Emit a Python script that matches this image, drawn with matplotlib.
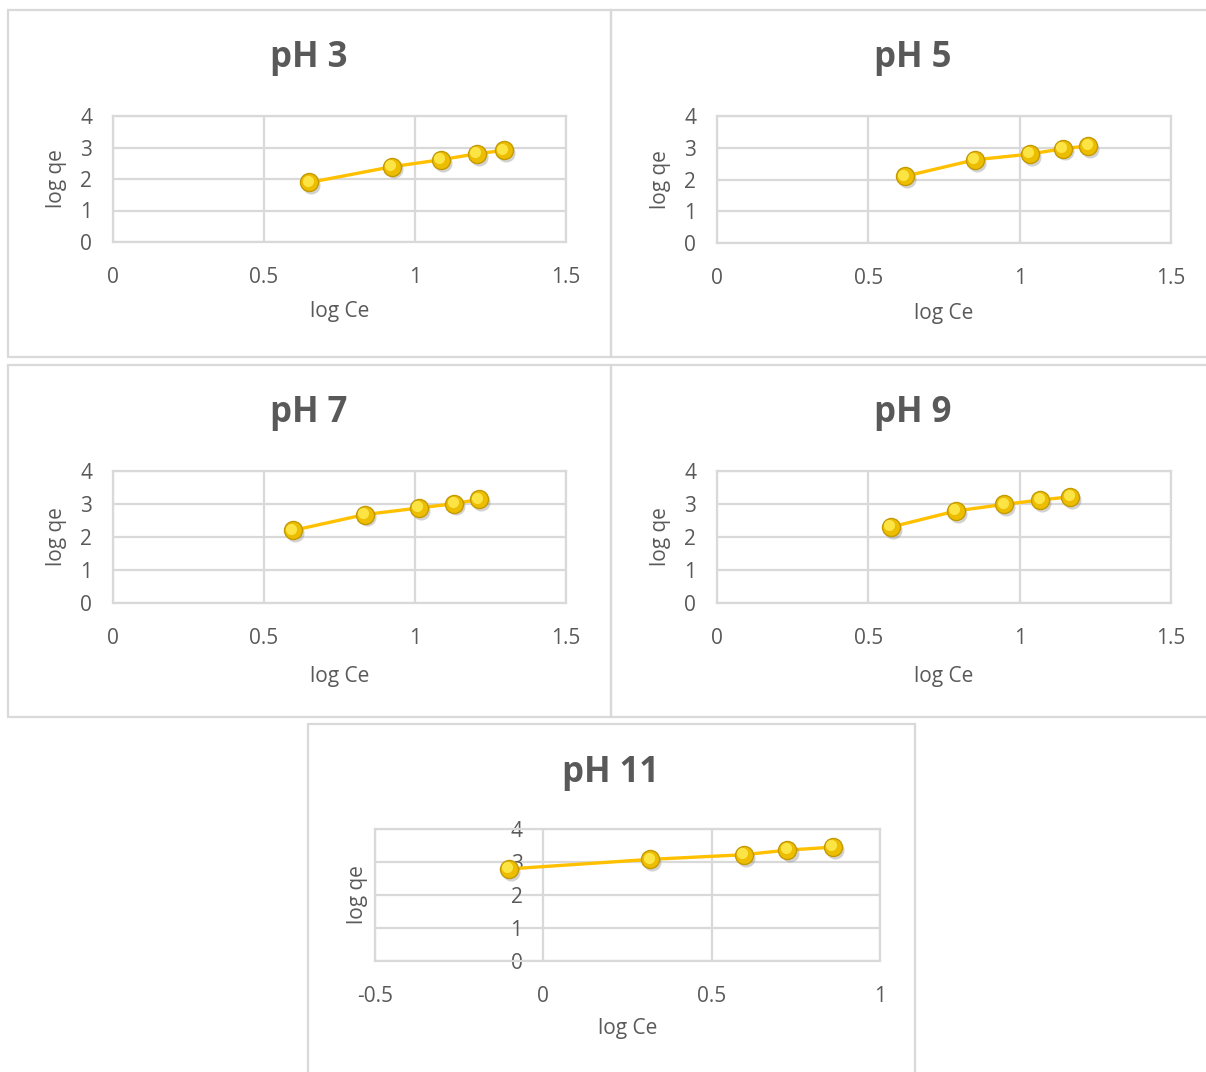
import matplotlib
matplotlib.use("Agg")
import matplotlib.pyplot as plt
import matplotlib.transforms as mtransforms
from matplotlib.patches import Rectangle

plt.rcParams['font.family'] = ['Open Sans', 'DejaVu Sans']

titles = ["pH 3", "pH 5", "pH 7", "pH 9", "pH 11"]

log_ce_ph3 = [0.650, 0.924, 1.085, 1.204, 1.295]
log_qe_ph3 = [1.89, 2.39, 2.61, 2.80, 2.91]

log_ce_ph5 = [0.620, 0.852, 1.033, 1.143, 1.227]
log_qe_ph5 = [2.10, 2.62, 2.80, 2.97, 3.06]

log_ce_ph7 = [0.596, 0.834, 1.013, 1.130, 1.212]
log_qe_ph7 = [2.20, 2.68, 2.88, 3.01, 3.14]

log_ce_ph9 = [0.574, 0.790, 0.949, 1.068, 1.167]
log_qe_ph9 = [2.30, 2.79, 2.99, 3.12, 3.22]

log_ce_ph11 = [-0.102, 0.318, 0.595, 0.725, 0.859]
log_qe_ph11 = [2.79, 3.08, 3.22, 3.36, 3.45]

xs = [log_ce_ph3, log_ce_ph5, log_ce_ph7, log_ce_ph9, log_ce_ph11]
ys = [log_qe_ph3, log_qe_ph5, log_qe_ph7, log_qe_ph9, log_qe_ph11]

x_ticks_main = [0, 0.5, 1, 1.5]
x_ticks_ph11 = [-0.5, 0, 0.5, 1]
y_ticks = [0, 1, 2, 3, 4]

W, H = 1206, 1072
fig = plt.figure(figsize=(W / 100, H / 100), dpi=100)

grid_c = '#d9d9d9'
text_c = '#595959'

# panel frames (left, top, right, bottom) in pixels
frames = [(8, 10, 611, 357), (611, 10, 1215, 357),
          (8, 365, 611, 717), (611, 365, 1215, 717),
          (308, 724, 915, 1080)]
# plot areas in pixels
areas = [(113, 116, 566, 242), (717, 116, 1171, 243),
         (113, 471, 566, 603), (717, 471, 1171, 603),
         (375, 829, 880, 961)]
title_pos = [(309, 58), (913, 58), (309, 413), (913, 413), (611, 773)]

for (l, t, r, b) in frames:
    fig.patches.append(Rectangle((l / W, 1 - b / H), (r - l) / W, (b - t) / H,
                                 transform=fig.transFigure, fill=False,
                                 edgecolor=grid_c, linewidth=1.6))

for i in range(5):
    l, t, r, b = areas[i]
    ax = fig.add_axes([l / W, 1 - b / H, (r - l) / W, (b - t) / H])
    tx, ty = title_pos[i]
    fig.text(tx / W, 1 - ty / H, titles[i], ha='center', va='center',
             fontsize=25, fontweight='bold', color=text_c)

    xt = x_ticks_ph11 if i == 4 else x_ticks_main
    ax.set_xlim(xt[0], xt[-1])
    ax.set_ylim(0, 4)
    ax.set_xticks(xt)
    ax.set_yticks(y_ticks)
    ax.set_xticklabels([f"{v:g}" for v in xt])
    ax.grid(True, color=grid_c, linewidth=1.6)
    ax.set_axisbelow(True)
    for s in ax.spines.values():
        s.set_color(grid_c)
        s.set_linewidth(1.6)
    ax.tick_params(length=0, labelsize=15, labelcolor=text_c)
    ax.tick_params(axis='x', pad=18)
    ax.tick_params(axis='y', pad=15)

    ax.set_xlabel("log Ce", fontsize=15, color=text_c)
    ax.set_ylabel("log qe", fontsize=15, color=text_c)
    if i == 4:
        ax.spines['left'].set_position(('data', 0))
        ax.spines['left'].set_visible(False)
        ax.axvline(-0.5, color=grid_c, linewidth=1.6, clip_on=False, zorder=0.5)
        ax.xaxis.set_label_coords(0.5, -0.515)
        ax.yaxis.set_label_coords(-0.034, 0.5)
    else:
        ax.xaxis.set_label_coords(0.5, -0.555)
        ax.yaxis.set_label_coords(-0.124, 0.5)
    ax.xaxis.label.set_va('center')
    ax.yaxis.label.set_va('center')

    # line and sphere-like markers
    ax.plot(xs[i], ys[i], color='#FFC000', linewidth=2.4, zorder=3, clip_on=False)
    shadow = ax.transData + mtransforms.ScaledTranslation(1.5 / 72, -2 / 72, fig.dpi_scale_trans)
    ax.plot(xs[i], ys[i], 'o', ms=13, color='#7f7f7f', alpha=0.35, mec='none',
            transform=shadow, zorder=3.5, clip_on=False)
    ax.plot(xs[i], ys[i], 'o', ms=13, mfc='#EDBE00', mec='#C49A00', mew=1.0,
            zorder=4, clip_on=False)
    hl = ax.transData + mtransforms.ScaledTranslation(-1.2 / 72, 1.2 / 72, fig.dpi_scale_trans)
    ax.plot(xs[i], ys[i], 'o', ms=8, mfc='#FFE94D', mec='none', alpha=0.9,
            transform=hl, zorder=5, clip_on=False)

fig.savefig("out.png", dpi=100)
